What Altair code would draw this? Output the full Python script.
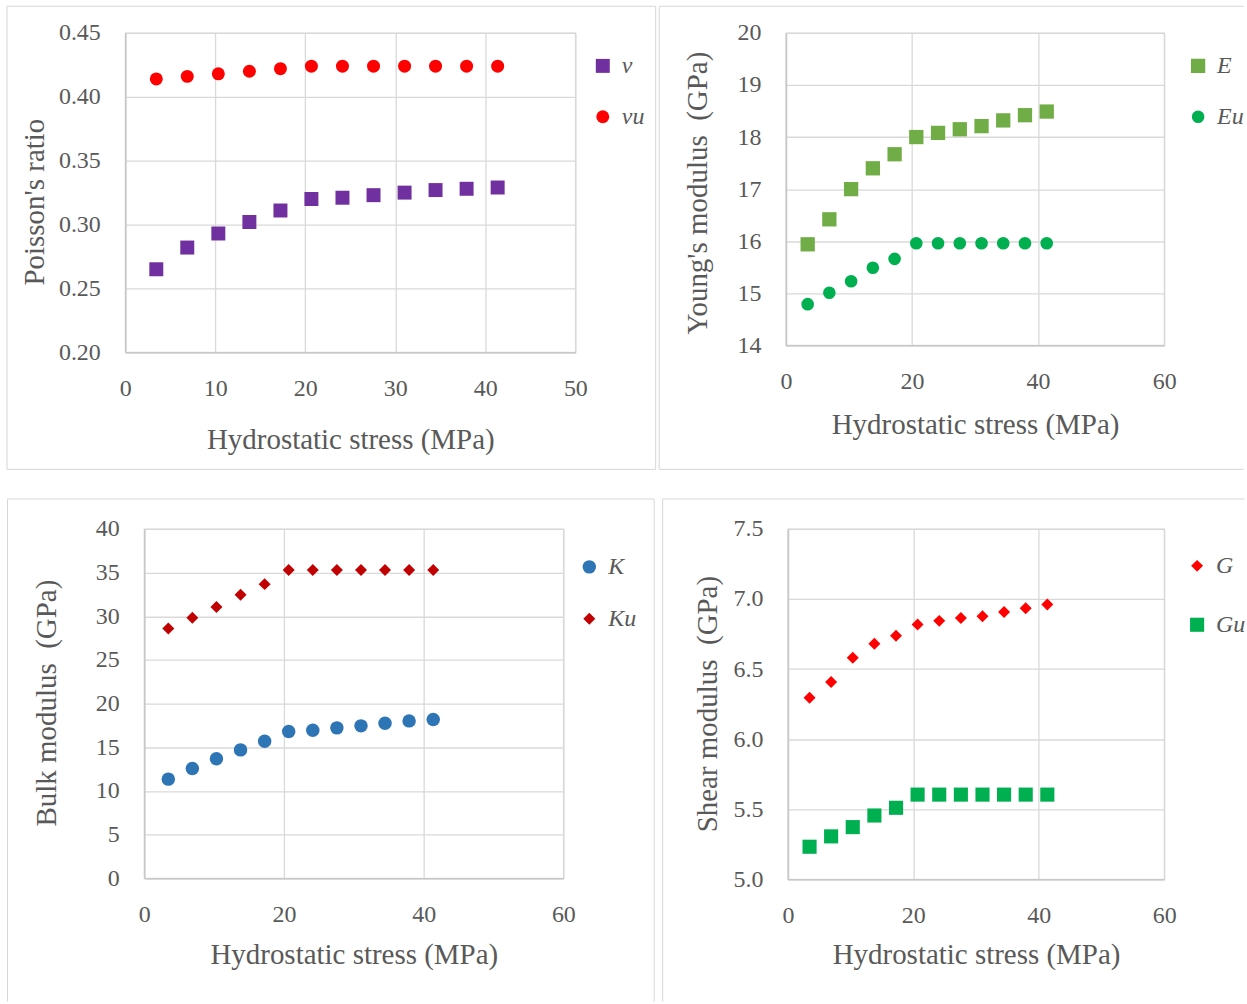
import altair as alt
import pandas as pd

# Hydrostatic stress steps (MPa)
stress = [3.45, 6.89, 10.34, 13.79, 17.24, 20.68, 24.13, 27.58, 31.03, 34.47, 37.92, 41.37]

# Poisson's ratio
poisson_v = [0.265, 0.282, 0.293, 0.302, 0.311, 0.320, 0.321, 0.323, 0.325, 0.327, 0.328, 0.329]
poisson_vu = [0.414, 0.416, 0.418, 0.420, 0.422, 0.424, 0.424, 0.424, 0.424, 0.424, 0.424, 0.424]

# Young's modulus (GPa)
young_E = [15.94, 16.42, 17.00, 17.40, 17.67, 18.00, 18.08, 18.15, 18.21, 18.32, 18.42, 18.49]
young_Eu = [14.79, 15.01, 15.23, 15.49, 15.66, 15.96, 15.96, 15.96, 15.96, 15.96, 15.96, 15.96]

# Bulk modulus (GPa)
bulk_K = [11.35, 12.57, 13.68, 14.70, 15.70, 16.80, 16.95, 17.22, 17.45, 17.75, 18.02, 18.17]
bulk_Ku = [28.61, 29.83, 31.05, 32.46, 33.68, 35.31, 35.31, 35.31, 35.31, 35.31, 35.31, 35.31]

# Shear modulus (GPa)
shear_G = [6.296, 6.408, 6.581, 6.680, 6.737, 6.818, 6.844, 6.865, 6.877, 6.908, 6.934, 6.960]
shear_Gu = [5.232, 5.306, 5.372, 5.455, 5.510, 5.604, 5.604, 5.604, 5.604, 5.604, 5.604, 5.604]

X_TITLE = "Hydrostatic stress (MPa)"
FONT = "Liberation Serif"
TEXT = "#595959"
GRID = "#d9d9d9"
AXIS_LINE = "#c8c8c8"
FRAME = "#d6d6d6"
TICK_SIZE = 24
TITLE_SIZE = 29

one_row = pd.DataFrame({"k": [0]})


def seg(x1, x2, y1, y2, color=FRAME, opacity=1):
    return alt.Chart(one_row).mark_rule(
        color=color, strokeWidth=1, strokeOpacity=opacity
    ).encode(x=alt.value(x1), x2=alt.value(x2), y=alt.value(y1), y2=alt.value(y2))


def frame_lines(left, top, right, bottom, sides):
    """Light outline drawn around a panel (relative to its plot origin)."""
    segs = {
        "top": (left, right, top, top),
        "bottom": (left, right, bottom, bottom),
        "left": (left, left, top, bottom),
        "right": (right, right, top, bottom),
    }
    return [seg(*segs[s]) for s in sides]


def panel(names, series, colors, shapes, sizes, x_max, x_ticks,
          y_dom, y_ticks, y_fmt, y_title, w, h, frame, sides,
          legend_xy, row_pad, x_title_y, y_title_x, y_title_y, extra=()):
    rows = []
    for name, vals in zip(names, series):
        for s, v in zip(stress, vals):
            rows.append({"stress": s, "value": v, "series": name})
    df = pd.DataFrame(rows)

    legend = alt.Legend(
        orient="none", legendX=legend_xy[0], legendY=legend_xy[1], title=None,
        labelFont=FONT, labelFontSize=TICK_SIZE, labelFontStyle="italic",
        labelColor=TEXT, symbolSize=190, rowPadding=row_pad, padding=0,
        labelOffset=7, symbolStrokeWidth=0,
    )

    x_axis = alt.Axis(
        values=x_ticks, title=X_TITLE, grid=True, gridColor=GRID, gridWidth=1.3,
        ticks=False, tickSize=0, domainColor=AXIS_LINE, domainWidth=1.6,
        labelFont=FONT, labelFontSize=TICK_SIZE, labelColor=TEXT, labelPadding=24,
        labelFlush=False, labelOverlap=False,
        titleFont=FONT, titleFontSize=TITLE_SIZE, titleFontWeight="normal",
        titleColor=TEXT, titleX=w / 2, titleY=x_title_y,
        titleBaseline="middle", titleAlign="center",
    )
    y_axis = alt.Axis(
        values=y_ticks, format=y_fmt, title=y_title, grid=True, gridColor=GRID,
        gridWidth=1.3, ticks=False, tickSize=0, domainColor=AXIS_LINE, domainWidth=1.6,
        labelFont=FONT, labelFontSize=TICK_SIZE, labelColor=TEXT, labelPadding=25,
        labelFlush=False, labelOverlap=False,
        titleFont=FONT, titleFontSize=TITLE_SIZE, titleFontWeight="normal",
        titleColor=TEXT, titleX=y_title_x, titleY=y_title_y, titleAngle=270,
        titleBaseline="middle", titleAlign="center",
    )

    points = alt.Chart(df).mark_point(filled=True, opacity=1, strokeWidth=0).encode(
        x=alt.X("stress:Q", scale=alt.Scale(domain=[0, x_max], nice=False, zero=False),
                axis=x_axis),
        y=alt.Y("value:Q", scale=alt.Scale(domain=y_dom, nice=False, zero=False),
                axis=y_axis),
        color=alt.Color("series:N", scale=alt.Scale(domain=names, range=colors),
                        legend=legend),
        shape=alt.Shape("series:N", scale=alt.Scale(domain=names, range=shapes),
                        legend=legend),
        size=alt.Size("series:N", scale=alt.Scale(domain=names, range=sizes),
                      legend=None),
    )
    layers = frame_lines(*frame, sides) + list(extra) + [points]
    return alt.layer(*layers).properties(width=w, height=h)


def spacer():
    # empty 1px cell that lets each row start its first panel from its outline
    return seg(0, 0, 0, 0, opacity=0).properties(
        width=1, height=1, view=alt.ViewBackground(strokeOpacity=0)
    )


p1 = panel(["v", "vu"], [poisson_v, poisson_vu], ["#7030A0", "#FF0000"],
           ["square", "circle"], [196, 169], 50, [0, 10, 20, 30, 40, 50],
           [0.20, 0.45], [0.20, 0.25, 0.30, 0.35, 0.40, 0.45], ".2f",
           "Poisson's ratio", 451, 320,
           (-118.5, -26.7, 531.5, 437.3), ["top", "bottom", "left", "right"],
           (466.5, 21), 27, 87, -90.5, 169)

p2 = panel(["E", "Eu"], [young_E, young_Eu], ["#70AD47", "#00B050"],
           ["square", "circle"], [205, 160], 60, [0, 20, 40, 60],
           [14, 20], [14, 15, 16, 17, 18, 19, 20], "d",
           "Young's modulus\u00a0 (GPa)", 379, 313,
           (-127, -26.7, 458.5, 437.3), ["top", "bottom", "left"],
           (401, 21), 27, 79, -89, 160)

p3 = panel(["K", "Ku"], [bulk_K, bulk_Ku], ["#2E75B6", "#C00000"],
           ["circle", "diamond"], [182, 144], 60, [0, 20, 40, 60],
           [0, 40], [0, 5, 10, 15, 20, 25, 30, 35, 40], "d",
           "Bulk modulus\u00a0 (GPa)", 420, 350,
           (-137, -30, 511, 473.5), ["top", "left", "right"],
           (434, 26), 28, 76, -98, 174,
           extra=[seg(517, 517, 0, 10, opacity=0)])

p4 = panel(["G", "Gu"], [shear_G, shear_Gu], ["#FF0000", "#00B050"],
           ["diamond", "square"], [144, 200], 60, [0, 20, 40, 60],
           [5.0, 7.5], [5.0, 5.5, 6.0, 6.5, 7.0, 7.5], ".1f",
           "Shear modulus\u00a0 (GPa)", 377, 351,
           (-125.5, -30, 457.5, 473.5), ["top", "left"],
           (398, 25), 35, 75, -80.5, 175)

indep = dict(x="independent", y="independent", color="independent",
             shape="independent", size="independent")

# Flow layout: every panel is placed right after its neighbour's outline
top_row = alt.concat(spacer(), p1, p2, columns=3, spacing=0,
                     align="none").resolve_scale(**indep)
bottom_row = alt.concat(spacer(), p3, p4, columns=3, spacing=0,
                        align="none").resolve_scale(**indep)

chart = (
    alt.concat(top_row, bottom_row, columns=1, spacing=26, align="none")
    .resolve_scale(**indep)
    .properties(padding={"left": 4.5, "top": 4, "right": 0, "bottom": 0},
                background="white")
    .configure_view(stroke=GRID, strokeWidth=1.3)
)

chart.save("out.html", embed_options={"renderer": "svg", "actions": False})
